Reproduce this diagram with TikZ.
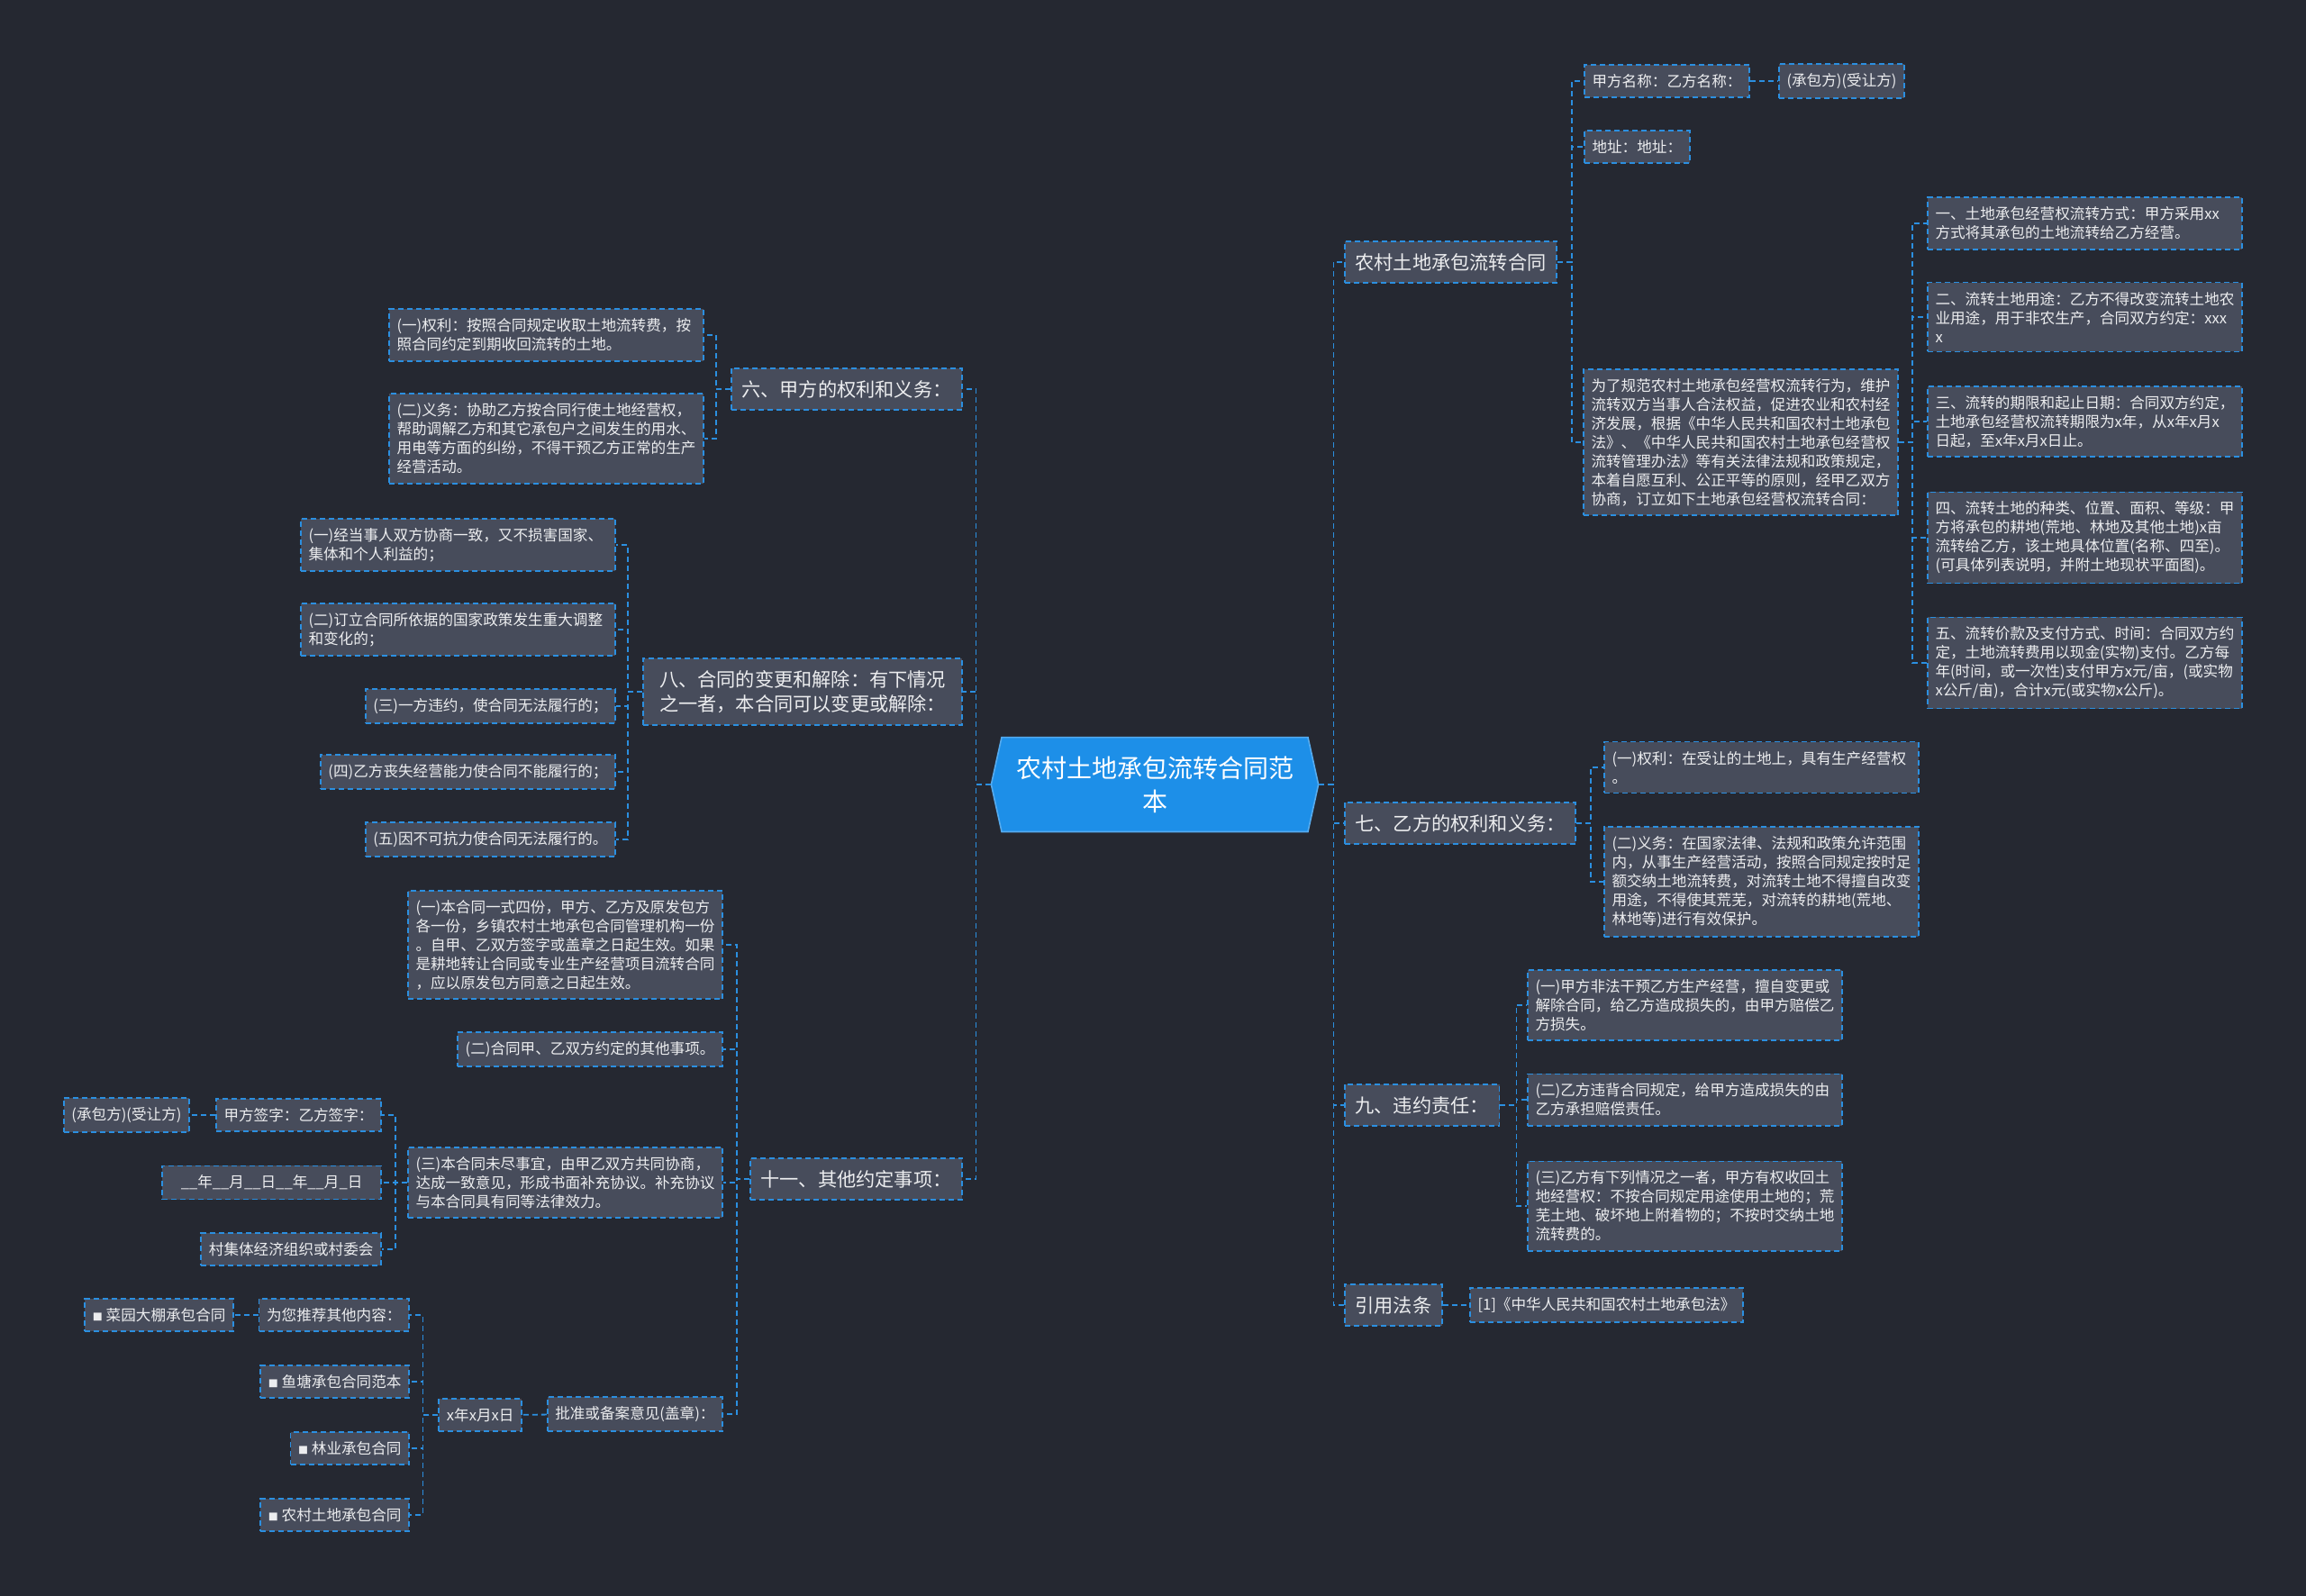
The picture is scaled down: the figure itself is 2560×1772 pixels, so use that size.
\documentclass[tikz,border=0pt]{standalone}
\usepackage{fontspec}
\setmainfont{Noto Sans CJK SC}
\usepackage{tikz}
\usetikzlibrary{shapes.symbols}
\definecolor{night}{HTML}{252831}
\definecolor{slate}{HTML}{474C5B}
\definecolor{sky}{HTML}{2B8FE0}
\definecolor{azure}{HTML}{1D8FE8}
\definecolor{chalk}{HTML}{ECEDEF}
\newcommand{\bul}{{\fontsize{5.5}{5}\selectfont ■}}

\begin{document}
\begin{tikzpicture}[x=0.5pt, y=-0.5pt,
    box/.style={draw=sky, dash pattern=on 3pt off 2pt, line width=0.9pt, fill=slate, text=chalk,
      inner xsep=4.3pt, inner ysep=5.2pt, font=\fontsize{8.3}{10.5}\selectfont},
    para/.style={box, text width=166pt, align=left},
    branch/.style={box, inner xsep=5.8pt, inner ysep=6.7pt, font=\fontsize{10.6}{13.5}\selectfont},
    rootbox/.style={signal, signal to=west and east, signal pointer angle=155, fill=azure,
      draw=azure!75!white, line width=0.8pt, text=white, align=center,
      inner xsep=8pt, inner ysep=10.5pt, font=\fontsize{14}{18.5}\selectfont},
    link/.style={draw=sky, dash pattern=on 3pt off 2pt, line width=0.9pt}]
  \useasboundingbox (0,0) rectangle (2560,1772);
  \fill[night] (0,0) rectangle (2560,1772);

  % Mitte
  \node[rootbox] (root) at (1282,871) {农村土地承包流转合同范\\本};

  % rechte Hauptäste
  \node[branch, anchor=west] (contract) at (1492,291) {农村土地承包流转合同};
  \node[branch, anchor=west] (yiduty) at (1492,914) {七、乙方的权利和义务：};
  \node[branch, anchor=west] (breach) at (1492,1227) {九、违约责任：};
  \node[branch, anchor=west] (law) at (1492,1449) {引用法条};

  % linke Hauptäste
  \node[branch, anchor=east] (jiaduty) at (1069,432) {六、甲方的权利和义务：};
  \node[branch, anchor=east, align=left, minimum width=177pt] (change) at (1069,768)
    {八、合同的变更和解除：有下情况\\之一者，本合同可以变更或解除：};
  \node[branch, anchor=east] (other) at (1069,1309) {十一、其他约定事项：};

  % Vertrag
  \node[box, anchor=west] (names) at (1758,90) {甲方名称：乙方名称：};
  \node[box, anchor=west] (party) at (1974,90) {(承包方)(受让方)};
  \node[box, anchor=west] (addr) at (1758,163) {地址：地址：};
  \node[para, anchor=west] (preface) at (1757,491)
    {为了规范农村土地承包经营权流转行为，维护\\流转双方当事人合法权益，促进农业和农村经\\济发展，根据《中华人民共和国农村土地承包\\法》、《中华人民共和国农村土地承包经营权\\流转管理办法》等有关法律法规和政策规定，\\本着自愿互利、公正平等的原则，经甲乙双方\\协商，订立如下土地承包经营权流转合同：};
  \node[para, anchor=west] (art1) at (2139,248)
    {一、土地承包经营权流转方式：甲方采用xx\\方式将其承包的土地流转给乙方经营。};
  \node[para, anchor=west] (art2) at (2139,352)
    {二、流转土地用途：乙方不得改变流转土地农\\业用途，用于非农生产，合同双方约定：xxx\\x};
  \node[para, anchor=west] (art3) at (2139,468)
    {三、流转的期限和起止日期：合同双方约定，\\土地承包经营权流转期限为x年，从x年x月x\\日起，至x年x月x日止。};
  \node[para, anchor=west] (art4) at (2139,597)
    {四、流转土地的种类、位置、面积、等级：甲\\方将承包的耕地(荒地、林地及其他土地)x亩\\流转给乙方，该土地具体位置(名称、四至)。\\(可具体列表说明，并附土地现状平面图)。};
  \node[para, anchor=west] (art5) at (2139,736)
    {五、流转价款及支付方式、时间：合同双方约\\定，土地流转费用以现金(实物)支付。乙方每\\年(时间，或一次性)支付甲方x元/亩，(或实物\\x公斤/亩)，合计x元(或实物x公斤)。};

  % Rechte und Pflichten Yi
  \node[para, anchor=west] (yi1) at (1780,852)
    {(一)权利：在受让的土地上，具有生产经营权\\。};
  \node[para, anchor=west] (yi2) at (1780,979)
    {(二)义务：在国家法律、法规和政策允许范围\\内，从事生产经营活动，按照合同规定按时足\\额交纳土地流转费，对流转土地不得擅自改变\\用途，不得使其荒芜，对流转的耕地(荒地、\\林地等)进行有效保护。};

  % Vertragsbruch
  \node[para, anchor=west] (br1) at (1695,1116)
    {(一)甲方非法干预乙方生产经营，擅自变更或\\解除合同，给乙方造成损失的，由甲方赔偿乙\\方损失。};
  \node[para, anchor=west] (br2) at (1695,1221)
    {(二)乙方违背合同规定，给甲方造成损失的由\\乙方承担赔偿责任。};
  \node[para, anchor=west] (br3) at (1695,1339)
    {(三)乙方有下列情况之一者，甲方有权收回土\\地经营权：不按合同规定用途使用土地的；荒\\芜土地、破坏地上附着物的；不按时交纳土地\\流转费的。};
  \node[box, anchor=west] (lawref) at (1631,1449) {[1]《中华人民共和国农村土地承包法》};

  % Rechte und Pflichten Jia
  \node[para, anchor=east] (jia1) at (782,372)
    {(一)权利：按照合同规定收取土地流转费，按\\照合同约定到期收回流转的土地。};
  \node[para, anchor=east] (jia2) at (782,487)
    {(二)义务：协助乙方按合同行使土地经营权，\\帮助调解乙方和其它承包户之间发生的用水、\\用电等方面的纠纷，不得干预乙方正常的生产\\经营活动。};

  % Änderung und Auflösung
  \node[para, anchor=east] (ch1) at (684,605)
    {(一)经当事人双方协商一致，又不损害国家、\\集体和个人利益的；};
  \node[para, anchor=east] (ch2) at (684,699)
    {(二)订立合同所依据的国家政策发生重大调整\\和变化的；};
  \node[box, anchor=east] (ch3) at (684,784) {(三)一方违约，使合同无法履行的；};
  \node[box, anchor=east] (ch4) at (684,857) {(四)乙方丧失经营能力使合同不能履行的；};
  \node[box, anchor=east] (ch5) at (684,932) {(五)因不可抗力使合同无法履行的。};

  % Sonstiges
  \node[para, anchor=east] (ot1) at (803,1049)
    {(一)本合同一式四份，甲方、乙方及原发包方\\各一份，乡镇农村土地承包合同管理机构一份\\。自甲、乙双方签字或盖章之日起生效。如果\\是耕地转让合同或专业生产经营项目流转合同\\，应以原发包方同意之日起生效。};
  \node[box, anchor=east] (ot2) at (803,1165) {(二)合同甲、乙双方约定的其他事项。};
  \node[para, anchor=east] (ot3) at (803,1313)
    {(三)本合同未尽事宜，由甲乙双方共同协商，\\达成一致意见，形成书面补充协议。补充协议\\与本合同具有同等法律效力。};
  \node[box, anchor=east] (approve) at (803,1570) {批准或备案意见(盖章)：};

  \node[box, anchor=east] (sign) at (424,1238) {甲方签字：乙方签字：};
  \node[box, anchor=east] (signparty) at (211,1238) {(承包方)(受让方)};
  \node[box, anchor=east, minimum width=121.5pt] (date) at (424,1313) {\_\_年\_\_月\_\_日\_\_年\_\_月\_日};
  \node[box, anchor=east] (village) at (424,1387) {村集体经济组织或村委会};

  \node[box, anchor=east] (xdate) at (580,1571) {x年x月x日};
  \node[box, anchor=east] (rec) at (455,1460) {为您推荐其他内容：};
  \node[box, anchor=east] (garden) at (260,1460) {\bul\ 菜园大棚承包合同};
  \node[box, anchor=east] (fish) at (455,1534) {\bul\ 鱼塘承包合同范本};
  \node[box, anchor=east] (forest) at (455,1608) {\bul\ 林业承包合同};
  \node[box, anchor=east] (rural) at (455,1682) {\bul\ 农村土地承包合同};

  % Verbindungen
  \foreach \n in {contract,yiduty,breach,law}
    \draw[link] (root.east) -- ++(16,0) |- (\n.west);
  \foreach \n in {jiaduty,change,other}
    \draw[link] (root.west) -- ++(-16,0) |- (\n.east);
  \foreach \n in {names,addr,preface}
    \draw[link] (contract.east) -- ++(16,0) |- (\n.west);
  \foreach \n in {1,...,5}
    \draw[link] (preface.east) -- ++(15,0) |- (art\n.west);
  \foreach \n in {yi1,yi2}
    \draw[link] (yiduty.east) -- ++(16,0) |- (\n.west);
  \foreach \n in {br1,br2,br3}
    \draw[link] (breach.east) -- ++(18,0) |- (\n.west);
  \foreach \n in {jia1,jia2}
    \draw[link] (jiaduty.west) -- ++(-16,0) |- (\n.east);
  \foreach \n in {1,...,5}
    \draw[link] (change.west) -- ++(-16,0) |- (ch\n.east);
  \foreach \n in {ot1,ot2,ot3,approve}
    \draw[link] (other.west) -- ++(-14,0) |- (\n.east);
  \foreach \n in {sign,date,village}
    \draw[link] (ot3.west) -- ++(-13,0) |- (\n.east);
  \foreach \n in {rec,fish,forest,rural}
    \draw[link] (xdate.west) -- ++(-17,0) |- (\n.east);
  \draw[link] (names) -- (party);
  \draw[link] (law) -- (lawref);
  \draw[link] (approve) -- (xdate);
  \draw[link] (sign) -- (signparty);
  \draw[link] (rec) -- (garden);
\end{tikzpicture}
\end{document}
